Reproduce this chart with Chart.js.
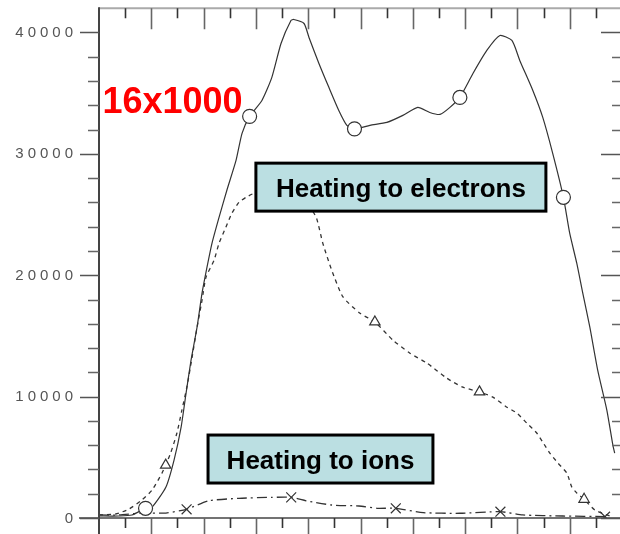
<!DOCTYPE html>
<html>
<head>
<meta charset="utf-8">
<script src="https://cdn.jsdelivr.net/npm/chart.js@4.4.1/dist/chart.umd.min.js"></script>
<style>
  html, body { margin: 0; padding: 0; background: #fff; overflow: hidden; }
  #wrap { width: 640px; height: 534px; }
</style>
</head>
<body>
<div id="wrap"><canvas id="c" width="640" height="534"></canvas></div>
<script>
// ---- data ----
const xTotal = [0, 0.76, 1.26, 1.78, 2.03, 2.56, 2.87, 3.14, 3.33, 3.52, 3.75, 3.94, 4.13, 4.32, 4.59, 4.89, 5.24, 5.47, 5.76, 6.23, 6.61, 6.96, 7.34, 7.45, 7.84, 8.03, 8.41, 8.79, 9.17, 9.48, 9.77, 10.36, 11.01, 11.62, 12.19, 12.65, 13.04, 13.42, 13.80, 14.30, 14.83, 15.33, 15.79, 16.09, 16.59, 16.97, 17.35, 17.76, 18.0, 18.27, 18.50, 18.77, 19.07, 19.42, 19.65, 19.72];
const yTotal = [165, 165, 250, 800, 900, 2550, 4770, 7490, 10290, 13000, 15720, 18520, 20660, 22630, 24770, 27000, 29460, 31690, 33090, 34400, 36300, 39090, 40990, 41070, 40740, 39590, 37450, 35480, 33580, 32350, 32060, 32350, 32590, 33170, 33830, 33410, 33250, 33830, 34650, 36620, 38520, 39750, 39340, 37700, 35220, 33000, 30040, 26420, 23460, 20990, 18520, 15720, 12180, 8890, 6010, 5350];
const markTotal = [1.78, 5.76, 9.77, 13.80, 17.76];

const xElec = [0, 0.64, 1.15, 1.64, 2.03, 2.41, 2.55, 2.74, 2.98, 3.17, 3.36, 3.56, 3.75, 3.94, 4.09, 4.40, 4.59, 4.85, 5.08, 5.35, 5.62, 5.93, 6.23, 6.55, 7.11, 7.68, 8.07, 8.32, 8.56, 8.90, 9.33, 9.98, 10.55, 11.24, 11.89, 12.54, 13.30, 13.91, 14.55, 15.06, 15.60, 15.98, 16.36, 16.74, 16.97, 17.24, 17.55, 17.89, 18.08, 18.27, 18.55, 18.96, 19.53];
const yElec = [250, 330, 740, 1480, 2300, 3700, 4360, 5350, 7000, 8890, 10780, 13250, 15720, 17940, 19830, 21230, 22630, 23950, 25100, 26000, 26420, 26750, 26910, 27000, 26830, 26340, 25600, 24690, 22630, 20410, 18210, 16870, 16150, 14650, 13580, 12760, 11520, 10780, 10390, 9960, 9130, 8640, 7820, 7000, 6250, 5350, 4530, 3700, 2550, 2060, 1540, 660, 165];
const markElec = [2.55, 6.55, 10.55, 14.55, 18.55];

const xIons = [0, 0.76, 1.64, 2.56, 3.35, 4.20, 5.35, 6.61, 7.35, 7.92, 8.90, 9.94, 10.63, 11.35, 12.40, 13.80, 15.35, 16.20, 17.74, 19.35];
const yIons = [250, 250, 410, 410, 720, 1420, 1620, 1700, 1700, 1420, 1070, 990, 800, 800, 440, 390, 520, 250, 165, 110];
const markIons = [3.35, 7.35, 11.35, 15.35, 19.35];

const yTickLabels = [0, 10000, 20000, 30000, 40000];
const annoTitle = "16x1000";
const annoElectrons = "Heating to electrons";
const annoIons = "Heating to ions";

// ---- chart ----
const X_MIN = 0, X_MAX = 20, Y_MIN = 0, Y_MAX = 42000;
const INK = '#333';

function pts(xs, ys) { return xs.map((x, i) => ({ x: x, y: ys[i] })); }
function markRadius(xs, marks, r) {
  return (ctx) => marks.includes(xs[ctx.dataIndex]) ? r : 0;
}

const framePlugin = {
  id: 'frame',
  afterDraw(chart) {
    const ctx = chart.ctx;
    const xs = chart.scales.x, ys = chart.scales.y;
    const L = xs.getPixelForValue(X_MIN), R = xs.getPixelForValue(X_MAX);
    const T = ys.getPixelForValue(Y_MAX), B = ys.getPixelForValue(Y_MIN);
    ctx.save();
    // frame
    ctx.lineCap = 'butt';
    ctx.strokeStyle = '#aaa'; ctx.lineWidth = 2;
    ctx.beginPath(); ctx.moveTo(L, T); ctx.lineTo(R, T); ctx.stroke();
    ctx.strokeStyle = '#444'; ctx.lineWidth = 2;
    ctx.beginPath(); ctx.moveTo(L, T - 1); ctx.lineTo(L, B + 16); ctx.stroke();
    ctx.lineWidth = 1.6;
    ctx.beginPath(); ctx.moveTo(L - 20, B); ctx.lineTo(R, B); ctx.stroke();
    ctx.beginPath(); ctx.moveTo(R, T); ctx.lineTo(R, B); ctx.stroke();
    // y ticks
    ctx.lineWidth = 1.6;
    for (let v = 0; v < Y_MAX; v += 2000) {
      const y = Math.round(ys.getPixelForValue(v)) + 0.5;
      const major = v % 10000 === 0;
      ctx.strokeStyle = major ? '#555' : '#666';
      ctx.beginPath();
      ctx.moveTo(L - (major ? 19 : 11), y); ctx.lineTo(L, y);
      ctx.moveTo(R - (major ? 21 : 10), y); ctx.lineTo(R, y);
      ctx.stroke();
    }
    // y tick labels
    ctx.fillStyle = '#555';
    ctx.font = '15px "Liberation Sans", Arial, sans-serif';
    ctx.textAlign = 'right'; ctx.textBaseline = 'middle';
    ctx.letterSpacing = '4px';
    yTickLabels.forEach(v => {
      ctx.fillText(String(v), L - 22, ys.getPixelForValue(v) + 0.5);
    });
    ctx.letterSpacing = '0px';
    // x ticks
    for (let v = 1; v < X_MAX; v += 1) {
      const x = Math.round(xs.getPixelForValue(v)) + 0.5;
      const major = v % 2 === 0;
      ctx.strokeStyle = major ? '#666' : '#333';
      ctx.beginPath();
      ctx.moveTo(x, T); ctx.lineTo(x, T + (major ? 21 : 10));
      ctx.moveTo(x, B); ctx.lineTo(x, B + (major ? 21 : 10));
      ctx.stroke();
    }
    // annotation boxes
    function box(x1, y1, x2, y2, text) {
      const px1 = xs.getPixelForValue(x1), px2 = xs.getPixelForValue(x2);
      const py1 = ys.getPixelForValue(y1), py2 = ys.getPixelForValue(y2);
      ctx.fillStyle = '#bbdfe2';
      ctx.fillRect(px1, py1, px2 - px1, py2 - py1);
      ctx.strokeStyle = '#000'; ctx.lineWidth = 3;
      ctx.strokeRect(px1, py1, px2 - px1, py2 - py1);
      ctx.fillStyle = '#000';
      ctx.font = 'bold 26px "Liberation Sans", Arial, sans-serif';
      ctx.textAlign = 'center'; ctx.textBaseline = 'alphabetic';
      ctx.fillText(text, (px1 + px2) / 2, (py1 + py2) / 2 + 9.5);
    }
    box(6.0, 29235, 17.09, 25282, annoElectrons);
    box(4.17, 6835, 12.77, 2882, annoIons);
    ctx.fillStyle = '#ff0000';
    ctx.font = 'bold 36px "Liberation Sans", Arial, sans-serif';
    ctx.textAlign = 'left'; ctx.textBaseline = 'alphabetic';
    ctx.fillText(annoTitle, xs.getPixelForValue(0.13), ys.getPixelForValue(33353));
    ctx.restore();
  }
};

new Chart(document.getElementById('c'), {
  type: 'line',
  data: {
    datasets: [
      {
        label: 'Total', data: pts(xTotal, yTotal),
        borderColor: INK, borderWidth: 1.2, tension: 0.2,
        pointStyle: 'circle', pointRadius: markRadius(xTotal, markTotal, 7),
        pointBorderColor: INK, pointBackgroundColor: '#fff', pointBorderWidth: 1.2
      },
      {
        label: 'Electrons', data: pts(xElec, yElec),
        borderColor: INK, borderWidth: 1.3, borderDash: [4, 4], tension: 0.2,
        pointStyle: 'triangle', pointRadius: markRadius(xElec, markElec, 6),
        pointBorderColor: INK, pointBackgroundColor: '#fff', pointBorderWidth: 1.2
      },
      {
        label: 'Ions', data: pts(xIons, yIons),
        borderColor: INK, borderWidth: 1.3, borderDash: [10, 4, 2, 4], tension: 0.2,
        pointStyle: 'crossRot', pointRadius: markRadius(xIons, markIons, 7),
        pointBorderColor: INK, pointBackgroundColor: '#fff', pointBorderWidth: 1.2
      }
    ]
  },
  options: {
    responsive: false,
    animation: false,
    devicePixelRatio: 1,
    layout: { padding: { top: 8, right: 18, left: 0, bottom: 0 } },
    plugins: { legend: { display: false }, tooltip: { enabled: false } },
    scales: {
      x: {
        type: 'linear', min: X_MIN, max: X_MAX,
        grid: { display: false, drawTicks: false },
        border: { display: false },
        ticks: { display: false },
        afterFit(s) { s.height = 16; }
      },
      y: {
        type: 'linear', min: Y_MIN, max: Y_MAX,
        grid: { display: false, drawTicks: false },
        border: { display: false },
        ticks: { display: false },
        afterFit(s) { s.width = 99; }
      }
    }
  },
  plugins: [framePlugin]
});
</script>
</body>
</html>
